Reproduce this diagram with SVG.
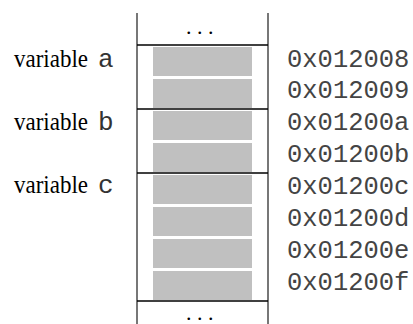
<svg xmlns="http://www.w3.org/2000/svg" width="413" height="324" viewBox="0 0 413 324">
  <style>
    .frame { stroke: #555; stroke-width: 1.6; fill: none; }
    .sep { stroke: #000; stroke-width: 1.4; }
    .cell { fill: #c0c0c0; }
    .lbl { font-family: "Liberation Serif", "Times New Roman", serif; font-size: 26px; fill: #000; }
    .var { font-family: "Liberation Mono", "Courier New", monospace; font-size: 26px; fill: #333; }
    .addr { font-family: "Liberation Mono", "Courier New", monospace; font-size: 25.5px; fill: #444; }
    .dots { font-family: "Liberation Serif", "Times New Roman", serif; font-size: 22px; letter-spacing: 5.5px; fill: #000; }
  </style>

  <!-- memory column -->
  <g id="memory">
    <line class="frame" x1="137" y1="13" x2="137" y2="324"/>
    <line class="frame" x1="268" y1="13" x2="268" y2="324"/>
    <line class="sep" x1="137" y1="45" x2="268" y2="45"/>
    <line class="sep" x1="137" y1="109" x2="268" y2="109"/>
    <line class="sep" x1="137" y1="173" x2="268" y2="173"/>
    <line class="sep" x1="137" y1="301" x2="268" y2="301"/>
    <text class="dots" x="186" y="34">...</text>
    <text class="dots" x="186" y="320">...</text>
  </g>

  <!-- byte cells -->
  <g id="cells">
    <rect class="cell" x="153" y="47" width="99" height="29"/>
    <rect class="cell" x="153" y="79" width="99" height="29"/>
    <rect class="cell" x="153" y="111" width="99" height="29"/>
    <rect class="cell" x="153" y="143" width="99" height="29"/>
    <rect class="cell" x="153" y="175" width="99" height="29"/>
    <rect class="cell" x="153" y="207" width="99" height="29"/>
    <rect class="cell" x="153" y="239" width="99" height="29"/>
    <rect class="cell" x="153" y="271" width="99" height="29"/>
  </g>

  <!-- variable labels -->
  <g id="var-a">
    <text class="lbl" x="14" y="67" textLength="74" lengthAdjust="spacingAndGlyphs">variable</text>
    <text class="var" x="98" y="67">a</text>
  </g>
  <g id="var-b">
    <text class="lbl" x="14" y="130" textLength="74" lengthAdjust="spacingAndGlyphs">variable</text>
    <text class="var" x="98" y="130">b</text>
  </g>
  <g id="var-c">
    <text class="lbl" x="14" y="193" textLength="74" lengthAdjust="spacingAndGlyphs">variable</text>
    <text class="var" x="98" y="193">c</text>
  </g>

  <!-- addresses -->
  <g id="addresses">
    <text class="addr" x="287" y="66.5">0x012008</text>
    <text class="addr" x="287" y="98.4">0x012009</text>
    <text class="addr" x="287" y="130.3">0x01200a</text>
    <text class="addr" x="287" y="162.2">0x01200b</text>
    <text class="addr" x="287" y="194.1">0x01200c</text>
    <text class="addr" x="287" y="226">0x01200d</text>
    <text class="addr" x="287" y="257.9">0x01200e</text>
    <text class="addr" x="287" y="289.8">0x01200f</text>
  </g>

  <g id="connectors"/>
</svg>
